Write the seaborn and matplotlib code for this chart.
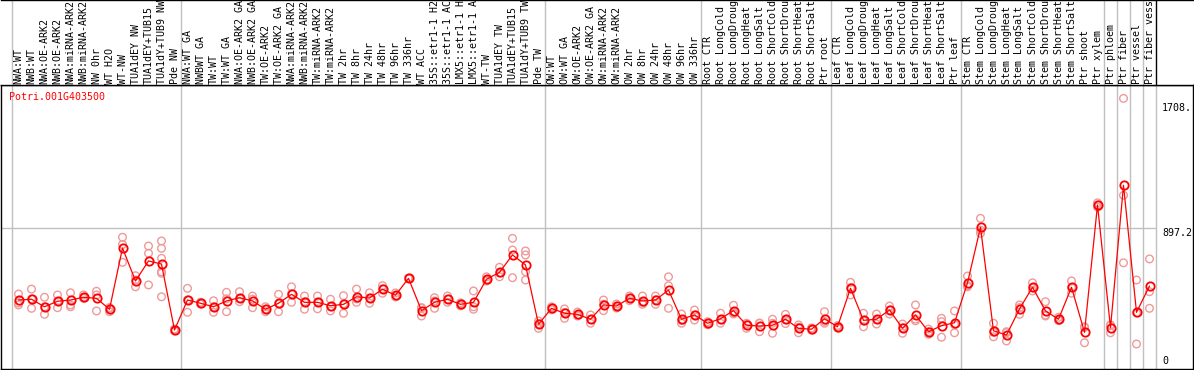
import pandas as pd
import seaborn as sns
import matplotlib.pyplot as plt

# Sample labels (as shown, cut to 14 characters)
samples = [
    'NWA:WT', 'NWB:WT', 'NWA:OE-ARK2', 'NWB:OE-ARK2', 'NWA:miRNA-ARK2', 'NWB:miRNA-ARK2',
    'NW 0hr', 'WT H2O', 'WT-NW', 'TUA1dEY NW', 'TUA1dEY+TUB15', 'TUA1dY+TUB9 NW', 'Pde NW',
    'NWA:WT GA', 'NWBWT GA', 'TW:WT', 'TW:WT GA', 'NWA:OE-ARK2 GA', 'NWB:OE-ARK2 GA',
    'TW:OE-ARK2', 'TW:OE-ARK2 GA', 'NWA:miRNA-ARK2', 'NWB:miRNA-ARK2', 'TW:miRNA-ARK2',
    'TW:miRNA-ARK2', 'TW 2hr', 'TW 8hr', 'TW 24hr', 'TW 48hr', 'TW 96hr', 'TW 336hr',
    'WT ACC', '35S::etr1-1 H2', '35S::etr1-1 AC', 'LMX5::etr1-1 H', 'LMX5::etr1-1 A',
    'WT-TW', 'TUA1dEY TW', 'TUA1dEY+TUB15', 'TUA1dY+TUB9 TW', 'Pde TW',
    'OW:WT', 'OW:WT GA', 'OW:OE-ARK2', 'OW:OE-ARK2 GA', 'OW:miRNA-ARK2', 'OW:miRNA-ARK2',
    'OW 2hr', 'OW 8hr', 'OW 24hr', 'OW 48hr', 'OW 96hr', 'OW 336hr',
    'Root CTR', 'Root LongCold', 'Root LongDroug', 'Root LongHeat', 'Root LongSalt',
    'Root ShortCold', 'Root ShortDrou', 'Root ShortHeat', 'Root ShortSalt', 'Ptr root',
    'Leaf CTR', 'Leaf LongCold', 'Leaf LongDroug', 'Leaf LongHeat', 'Leaf LongSalt',
    'Leaf ShortCold', 'Leaf ShortDrou', 'Leaf ShortHeat', 'Leaf ShortSalt', 'Ptr leaf',
    'Stem CTR', 'Stem LongCold', 'Stem LongDroug', 'Stem LongHeat', 'Stem LongSalt',
    'Stem ShortCold', 'Stem ShortDrou', 'Stem ShortHeat', 'Stem ShortSalt', 'Ptr shoot',
    'Ptr xylem', 'Ptr phloem', 'Ptr fiber', 'Ptr vessel', 'Ptr fiber vess',
]

# Mean expression per sample
means = [
    429, 434, 385, 421, 429, 447, 440, 369, 767, 553, 683, 663, 234,
    429, 408, 385, 423, 444, 423, 369, 408, 466, 414, 414, 392, 401, 450, 442,
    499, 460, 570, 360, 414, 434, 401, 414, 564, 609, 722, 657, 271,
    375, 343, 336, 304, 397, 390, 440, 423, 429, 494, 304, 332,
    278, 307, 360, 265, 260, 265, 304, 245, 239, 307,
    255, 505, 297, 304, 364, 245, 332, 223, 262, 281,
    541, 902, 229, 201, 371, 512, 358, 304, 512, 219,
    1047, 249, 1175, 349, 520,
]

# Replicate values per sample
replicates = [
    [468, 410, 397], [500, 436, 375], [447, 385, 336], [462, 420, 379],
    [476, 397, 385], [462, 440, 447], [486, 462, 358], [353, 375, 380],
    [837, 790, 674], [587, 560, 515], [780, 733, 527],
    [813, 765, 700, 613, 603, 450], [234, 228, 240],
    [505, 430, 349], [415, 405, 403], [424, 385, 349], [479, 437, 353],
    [483, 440, 418], [455, 435, 379], [385, 369, 353], [466, 405, 353],
    [515, 470, 414], [455, 418, 369], [455, 415, 372], [434, 385, 358],
    [457, 403, 343], [500, 436, 414], [476, 442, 408], [522, 502, 473],
    [475, 456, 449], [572, 570, 568], [375, 380, 325], [444, 423, 375],
    [455, 434, 414], [411, 401, 391], [488, 385, 369], [580, 560, 552],
    [642, 605, 580], [830, 754, 574], [748, 722, 613, 559], [293, 275, 245],
    [385, 375, 365], [371, 348, 310], [351, 332, 325], [332, 302, 278],
    [429, 402, 360], [403, 390, 377], [455, 440, 425], [455, 413, 401],
    [455, 431, 401], [580, 522, 375], [338, 296, 278], [364, 332, 299],
    [288, 278, 268], [343, 300, 278], [395, 347, 338], [278, 272, 245],
    [278, 279, 223], [304, 278, 213], [336, 300, 276], [267, 252, 216],
    [247, 236, 234], [353, 290, 278],
    [263, 255, 247], [544, 509, 462], [343, 293, 255], [338, 301, 273],
    [390, 364, 338], [273, 249, 213], [397, 305, 294], [240, 223, 206],
    [310, 288, 187], [358, 269, 216],
    [585, 523, 515], [960, 883, 863], [278, 219, 190], [223, 217, 163],
    [397, 380, 336], [541, 507, 488], [418, 331, 325], [317, 300, 295],
    [553, 510, 473], [255, 251, 151],
    [1061, 1047, 1033], [267, 264, 216], [1740, 1110, 671], [559, 345, 143],
    [696, 483, 375],
]

group_breaks = [-0.5, 12.5, 40.5, 52.5, 62.5, 72.5, 83.5, 84.5, 85.5, 86.5, 87.5]
y_ticks = [1708, 897.2, 0]
y_tick_labels = ['1708.', '897.2', '0']
gene_id = 'Potri.001G403500'

df_mean = pd.DataFrame({'idx': range(len(samples)), 'sample': samples, 'mean': means})
df_rep = pd.DataFrame(
    [(i, v) for i, vals in enumerate(replicates) for v in vals],
    columns=['idx', 'value'],
)

sns.set_theme(style='white')
plt.rcParams['font.family'] = ['DejaVu Sans Mono', 'DejaVu Sans']

W, H = 1194, 370
fig = plt.figure(figsize=(W / 100, H / 100), dpi=100)
xlim = ((1 - 18.5) / 13, (1193 - 18.5) / 13)

# main plot area
ax = fig.add_axes([1 / W, 1 / H, 1192 / W, 284 / H])
ax.set_xlim(*xlim)
ax.set_ylim(-19.5, 1827)
for xb in group_breaks:
    ax.axvline(xb, color='#c0c0c0', lw=1.0, zorder=0)
ax.hlines(897.2, xlim[0], 87.5, color='#c0c0c0', lw=1.0, zorder=0)

sns.scatterplot(data=df_rep, x='idx', y='value', ax=ax, marker='o', s=30,
                facecolors='none', edgecolor='#ee9a9a', linewidth=1.0, zorder=2)
sns.lineplot(data=df_mean, x='idx', y='mean', ax=ax, color='red', linewidth=0.9,
             marker='o', markersize=6, markerfacecolor='none',
             markeredgecolor='red', markeredgewidth=1.3, zorder=3)

ax.set_xticks([])
ax.set_yticks([])
ax.set_xlabel('')
ax.set_ylabel('')
for sp in ax.spines.values():
    sp.set_color('black')
    sp.set_linewidth(1.0)

ax.text(0.007, 0.958, gene_id, transform=ax.transAxes, color='red',
        fontsize=7.2, va='center', ha='left')
tr = ax.get_yaxis_transform()
for val, lab in zip(y_ticks, y_tick_labels):
    ax.text((1162 - 1) / 1192, val, lab, transform=tr, fontsize=7.2,
            ha='left', va='bottom' if val == 0 else 'top', color='black')

# sample label strip on top
axl = fig.add_axes([1 / W, 285 / H, 1192 / W, 85 / H])
axl.set_xlim(*xlim)
axl.set_ylim(0, 1)
axl.set_xticks([])
axl.set_yticks([])
for name in ['left', 'right']:
    axl.spines[name].set_visible(False)
for name in ['top', 'bottom']:
    axl.spines[name].set_color('black')
    axl.spines[name].set_linewidth(1.0)
for xb in group_breaks[:-1]:
    axl.axvline(xb, color='#c0c0c0', lw=1.0, zorder=0)
axl.axvline(group_breaks[-1], color='black', lw=1.0)
for i, s in enumerate(samples):
    axl.text(i, 0.015, s, rotation=90, ha='center', va='bottom',
             fontsize=7.2, color='black', clip_on=True)

fig.savefig('out.png', dpi=100)
